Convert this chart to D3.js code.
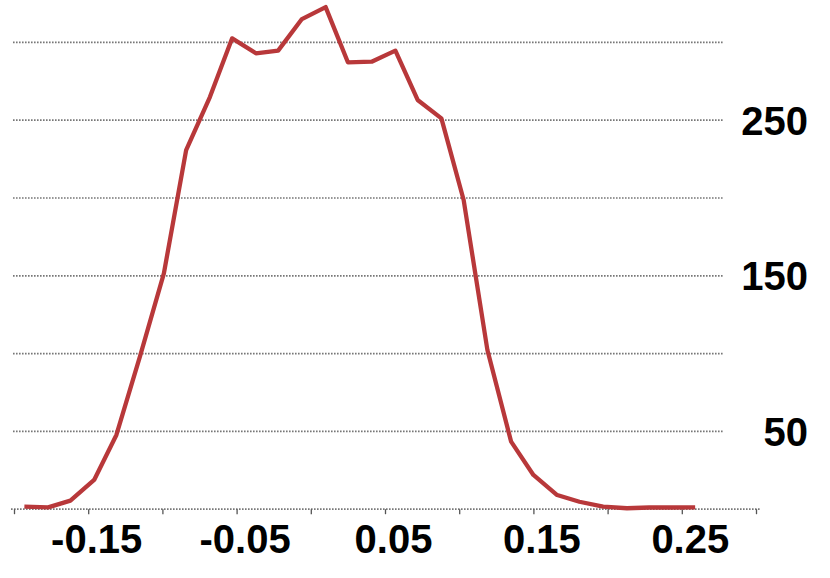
<!DOCTYPE html>
<html>
<head>
<meta charset="utf-8">
<script src="https://cdn.jsdelivr.net/npm/d3@7"></script>
<style>
  body { margin: 0; background: #fff; }
  text { font-family: "Liberation Sans", Arial, sans-serif; font-weight: 700; }
</style>
</head>
<body>
<div id="plot"></div>
<script>
// Width and height
const w = 830;
const h = 578;

// data
const xValues = [-0.193, -0.177, -0.162, -0.146, -0.131, -0.115, -0.099, -0.084, -0.068, -0.053,
                 -0.037, -0.022, -0.006, 0.010, 0.025, 0.041, 0.057, 0.072, 0.088, 0.103,
                 0.119, 0.135, 0.150, 0.166, 0.181, 0.197, 0.213, 0.228, 0.244, 0.259];
const counts = [1.6, 1.2, 5.5, 18.8, 47.7, 98.5, 151.6, 230.8, 264.9, 302.6,
                293.0, 294.7, 315.0, 322.7, 287.2, 287.6, 294.7, 263.0, 251.2, 198.7,
                102.3, 43.4, 22.0, 9.1, 4.8, 1.6, 0.6, 1.1, 1.1, 1.2];
const xTicks = [-0.2, -0.15, -0.1, -0.05, 0, 0.05, 0.1, 0.15, 0.2, 0.25, 0.3];
const xLabels = [-0.15, -0.05, 0.05, 0.15, 0.25];
const yGrid = [50, 100, 150, 200, 250, 300];
const yLabels = [50, 150, 250];

const svg = d3.select("div#plot")
  .append("svg")
    .attr("width", w)
    .attr("height", h);

const xScale = d3.scaleLinear()
  .domain([-0.2, 0.3])
  .range([14, 756]);

const yScale = d3.scaleLinear()
  .domain([0, 300])
  .range([509.2, 42.4]);

// dotted gridlines
svg.append("g")
  .selectAll("line")
  .data(yGrid)
  .enter()
  .append("line")
    .attr("x1", 13)
    .attr("x2", 724)
    .attr("y1", d => yScale(d))
    .attr("y2", d => yScale(d))
    .attr("stroke", "#777")
    .attr("stroke-width", 1.7)
    .attr("stroke-dasharray", "1.6 1.4");

// dotted baseline
svg.append("line")
  .attr("x1", xScale(-0.2) - 3)
  .attr("x2", xScale(0.3) + 4)
  .attr("y1", yScale(0))
  .attr("y2", yScale(0))
  .attr("stroke", "#777")
  .attr("stroke-width", 1.7)
  .attr("stroke-dasharray", "1.6 1.4");

// tick marks
const xAxis = d3.axisBottom(xScale)
  .tickValues(xTicks)
  .tickSize(5)
  .tickFormat("");

svg.append("g")
  .attr("id", "xaxis")
  .attr("transform", `translate(0, ${yScale(0)})`)
  .call(xAxis)
  .call(g => g.select(".domain").remove())
  .call(g => g.selectAll(".tick line").attr("stroke", "#555").attr("stroke-width", 1.3));

// x labels (plain hyphen for the minus sign)
const xLabelAxis = d3.axisBottom(xScale)
  .tickValues(xLabels)
  .tickSize(0)
  .tickPadding(0)
  .tickFormat(d => d3.format(".2f")(d).replace("\u2212", "-"));

svg.append("g")
  .attr("id", "xlabels")
  .attr("transform", `translate(8, 553)`)
  .call(xLabelAxis)
  .call(g => g.select(".domain").remove())
  .call(g => g.selectAll("text")
    .attr("dy", null)
    .attr("y", 0)
    .attr("fill", "#000")
    .style("font-size", "40px")
    .style("font-family", "'Liberation Sans', Arial, sans-serif")
    .style("font-weight", 700));

// y labels
svg.append("g")
  .selectAll("text")
  .data(yLabels)
  .enter()
  .append("text")
    .attr("x", 808)
    .attr("y", d => yScale(d))
    .attr("dy", "0.36em")
    .attr("text-anchor", "end")
    .style("font-size", "40px")
    .attr("fill", "#000")
    .text(d => d);

// red line
const line = d3.line()
  .x((d, i) => xScale(xValues[i]))
  .y(d => yScale(d));

svg.append("path")
  .datum(counts)
  .attr("d", line)
  .attr("fill", "none")
  .attr("stroke", "#b8383a")
  .attr("stroke-width", 4.3)
  .attr("stroke-linejoin", "round");
</script>
</body>
</html>
